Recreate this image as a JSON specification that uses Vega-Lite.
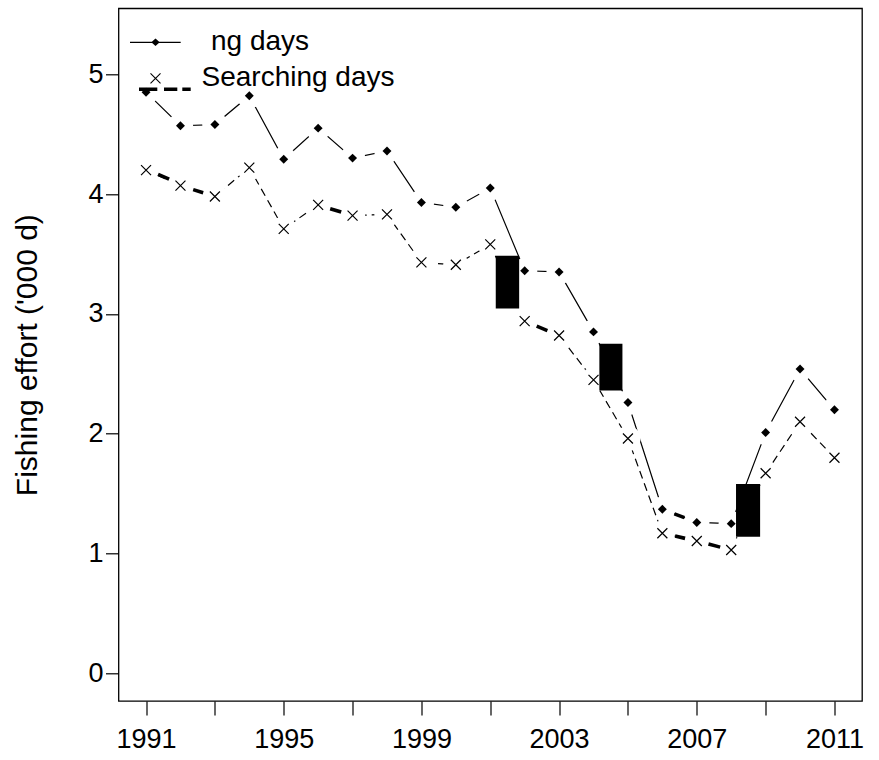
{
  "$schema": "https://vega.github.io/schema/vega-lite/v6.json",
  "width": 743.5,
  "height": 692.7,
  "autosize": {"type": "none"},
  "padding": {"left": 118.5, "top": 8.3, "right": 17, "bottom": 59},
  "background": "white",
  "config": {
    "view": {"stroke": "black", "strokeWidth": 1.3},
    "font": "Liberation Sans",
    "axis": {
      "domain": false,
      "grid": false,
      "labelFont": "Liberation Sans",
      "labelColor": "black",
      "tickColor": "black",
      "tickWidth": 1.2,
      "titleFont": "Liberation Sans",
      "titleFontWeight": "normal",
      "titleColor": "black"
    },
    "legend": {
      "labelFont": "Liberation Sans",
      "labelFontSize": 28,
      "labelColor": "black",
      "labelLimit": 500,
      "padding": 0,
      "symbolSize": 400,
      "symbolOpacity": 1
    }
  },
  "datasets": {
    "effort": [
      {"year": 1991, "series": "Fishing days", "value": 4.85},
      {"year": 1992, "series": "Fishing days", "value": 4.57},
      {"year": 1993, "series": "Fishing days", "value": 4.58},
      {"year": 1994, "series": "Fishing days", "value": 4.82},
      {"year": 1995, "series": "Fishing days", "value": 4.29},
      {"year": 1996, "series": "Fishing days", "value": 4.55},
      {"year": 1997, "series": "Fishing days", "value": 4.30},
      {"year": 1998, "series": "Fishing days", "value": 4.36},
      {"year": 1999, "series": "Fishing days", "value": 3.93},
      {"year": 2000, "series": "Fishing days", "value": 3.89},
      {"year": 2001, "series": "Fishing days", "value": 4.05},
      {"year": 2002, "series": "Fishing days", "value": 3.36},
      {"year": 2003, "series": "Fishing days", "value": 3.35},
      {"year": 2004, "series": "Fishing days", "value": 2.85},
      {"year": 2005, "series": "Fishing days", "value": 2.26},
      {"year": 2006, "series": "Fishing days", "value": 1.37},
      {"year": 2007, "series": "Fishing days", "value": 1.26},
      {"year": 2008, "series": "Fishing days", "value": 1.25},
      {"year": 2009, "series": "Fishing days", "value": 2.01},
      {"year": 2010, "series": "Fishing days", "value": 2.54},
      {"year": 2011, "series": "Fishing days", "value": 2.20},
      {"year": 1991, "series": "Searching days", "value": 4.20},
      {"year": 1992, "series": "Searching days", "value": 4.07},
      {"year": 1993, "series": "Searching days", "value": 3.98},
      {"year": 1994, "series": "Searching days", "value": 4.22},
      {"year": 1995, "series": "Searching days", "value": 3.71},
      {"year": 1996, "series": "Searching days", "value": 3.91},
      {"year": 1997, "series": "Searching days", "value": 3.82},
      {"year": 1998, "series": "Searching days", "value": 3.83},
      {"year": 1999, "series": "Searching days", "value": 3.43},
      {"year": 2000, "series": "Searching days", "value": 3.41},
      {"year": 2001, "series": "Searching days", "value": 3.58},
      {"year": 2002, "series": "Searching days", "value": 2.94},
      {"year": 2003, "series": "Searching days", "value": 2.82},
      {"year": 2004, "series": "Searching days", "value": 2.45},
      {"year": 2005, "series": "Searching days", "value": 1.96},
      {"year": 2006, "series": "Searching days", "value": 1.17},
      {"year": 2007, "series": "Searching days", "value": 1.105},
      {"year": 2008, "series": "Searching days", "value": 1.03},
      {"year": 2009, "series": "Searching days", "value": 1.67},
      {"year": 2010, "series": "Searching days", "value": 2.10},
      {"year": 2011, "series": "Searching days", "value": 1.80}
    ],
    "boxes": [
      {"year": 2001.16, "year2": 2001.84, "value": 3.485, "value2": 3.046},
      {"year": 2004.17, "year2": 2004.84, "value": 2.75, "value2": 2.36},
      {"year": 2008.14, "year2": 2008.84, "value": 1.58, "value2": 1.14}
    ],
    "dashes": [
      {"year": 1991.35, "year2": 1991.67, "value": 4.165, "value2": 4.125},
      {"year": 1992.37, "year2": 1992.66, "value": 4.037, "value2": 4.011},
      {"year": 1996.35, "year2": 1996.67, "value": 3.878, "value2": 3.85},
      {"year": 2002.35, "year2": 2002.66, "value": 2.898, "value2": 2.861},
      {"year": 2006.35, "year2": 2006.64, "value": 1.331, "value2": 1.3},
      {"year": 2006.37, "year2": 2006.66, "value": 1.146, "value2": 1.127},
      {"year": 2007.34, "year2": 2007.68, "value": 1.08, "value2": 1.054}
    ]
  },
  "encoding": {
    "x": {
      "field": "year",
      "type": "quantitative",
      "scale": {"domain": [1990.2, 2011.8], "nice": false, "zero": false},
      "axis": {
        "title": null,
        "values": [1991, 1993, 1995, 1997, 1999, 2001, 2003, 2005, 2007, 2009, 2011],
        "labelExpr": "(datum.value - 1991) % 4 == 0 ? '' + datum.value : ''",
        "labelFontSize": 27,
        "tickSize": 14,
        "labelPadding": 11,
        "labelOverlap": false,
        "labelFlush": false
      }
    },
    "y": {
      "field": "value",
      "type": "quantitative",
      "scale": {"domain": [-0.23, 5.55], "nice": false, "zero": false},
      "axis": {
        "title": "Fishing effort ('000 d)",
        "values": [0, 1, 2, 3, 4, 5],
        "labelFontSize": 27,
        "tickSize": 13,
        "labelPadding": 2.5,
        "titleFontSize": 30,
        "titleAngle": -90,
        "titleBaseline": "alphabetic",
        "titleX": -81.8
      }
    }
  },
  "layer": [
    {
      "data": {"name": "effort"},
      "transform": [{"filter": "datum.series == 'Fishing days'"}],
      "mark": {"type": "line", "color": "black", "strokeWidth": 1.2}
    },
    {
      "data": {"name": "effort"},
      "transform": [{"filter": "datum.series == 'Fishing days'"}],
      "mark": {"type": "circle", "fill": "white", "stroke": null, "fillOpacity": 1, "opacity": 1, "size": 640}
    },
    {
      "data": {"name": "effort"},
      "transform": [{"filter": "datum.series == 'Searching days'"}],
      "mark": {"type": "line", "color": "black", "strokeWidth": 1.2, "strokeDash": [8, 5]}
    },
    {
      "data": {"name": "effort"},
      "transform": [{"filter": "datum.series == 'Searching days'"}],
      "mark": {"type": "circle", "fill": "white", "stroke": null, "fillOpacity": 1, "opacity": 1, "size": 640}
    },
    {
      "data": {"name": "dashes"},
      "mark": {"type": "rule", "color": "black", "strokeWidth": 3.6, "strokeCap": "butt"},
      "encoding": {
        "x2": {"field": "year2"},
        "y2": {"field": "value2"}
      }
    },
    {
      "data": {"name": "effort"},
      "transform": [{"filter": "datum.series == 'Fishing days'"}],
      "mark": {"type": "point", "shape": "diamond", "filled": true, "color": "black", "opacity": 1, "size": 80, "strokeWidth": 0}
    },
    {
      "data": {"name": "effort"},
      "transform": [{"filter": "datum.series == 'Searching days'"}],
      "mark": {"type": "point", "shape": "M-1,-1L1,1M1,-1L-1,1", "filled": false, "color": "black", "opacity": 1, "size": 100, "strokeWidth": 1.2}
    },
    {
      "data": {"name": "boxes"},
      "mark": {"type": "rect", "color": "black"},
      "encoding": {
        "x2": {"field": "year2"},
        "y2": {"field": "value2"}
      }
    },
    {
      "data": {"name": "effort"},
      "transform": [{"filter": "datum.series == 'Fishing days'"}],
      "mark": {"type": "point", "filled": true, "color": "black", "opacity": 0},
      "encoding": {
        "shape": {
          "field": "series",
          "type": "nominal",
          "scale": {
            "domain": ["Fishing days"],
            "range": ["M-2.55,-0.06H2.52V0.06H-2.55ZM-0.42,0L0,-0.38L0.42,0L0,0.38Z"]
          },
          "legend": {
            "title": null,
            "orient": "none",
            "legendX": 23,
            "legendY": 20,
            "labelOffset": 41.5,
            "labelExpr": "'ng days'"
          }
        }
      }
    },
    {
      "data": {"name": "effort"},
      "transform": [{"filter": "datum.series == 'Searching days'"}],
      "mark": {"type": "point", "filled": true, "opacity": 0},
      "encoding": {
        "color": {
          "field": "series",
          "type": "nominal",
          "scale": {"domain": ["Searching days"], "range": ["black"]},
          "legend": {
            "title": null,
            "orient": "none",
            "legendX": 23,
            "legendY": 56,
            "labelOffset": 32,
            "symbolType": "M-0.54,-0.46L-0.46,-0.54L0.54,0.46L0.46,0.54ZM0.46,-0.54L0.54,-0.46L-0.46,0.54L-0.54,0.46ZM-1.65,0.93H0.18V1.27H-1.65ZM0.85,0.93H2.18V1.27H0.85ZM2.68,0.93H3.52V1.27H2.68Z"
          }
        }
      }
    }
  ]
}
